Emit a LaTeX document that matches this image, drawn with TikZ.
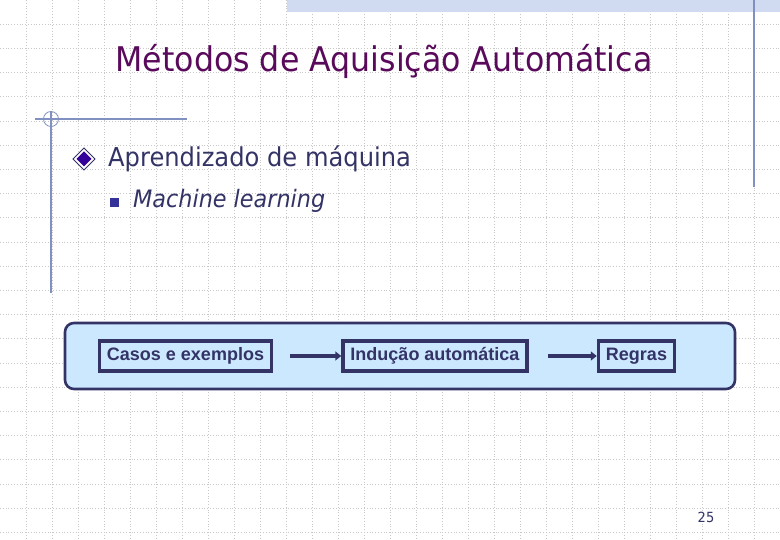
\documentclass[tikz,border=0pt]{standalone}
\usepackage{fontspec}
\setmainfont{Liberation Sans}
\newfontfamily\tahoma[FakeStretch=0.93]{DejaVu Sans}
\newfontfamily\tahomait[FakeStretch=0.93]{DejaVu Sans Oblique}
\definecolor{titlepurple}{HTML}{5A0A5A}
\definecolor{navy}{HTML}{333366}
\definecolor{gridgray}{HTML}{C8C8C8}
\definecolor{lineblue}{HTML}{8090C0}
\definecolor{boxfill}{HTML}{CCE8FF}
\definecolor{bannerblue}{HTML}{D0DAF0}
\definecolor{bulletpurple}{HTML}{330099}
\definecolor{squareblue}{HTML}{333399}
\usetikzlibrary{arrows.meta}
\tikzset{
  flowbox/.style={draw=navy, line width=3.5pt, fill=boxfill, inner xsep=5pt, inner ysep=0pt,
    minimum height=30pt, text height=13pt, text depth=3.5pt, text=navy,
    font=\bfseries\fontsize{18}{18}\selectfont},
  flowarrow/.style={draw=navy, line width=4.5pt, -{Triangle[length=6pt,width=9pt]}},
  guide/.style={draw=lineblue, line width=1.2pt},
}
\begin{document}
\begin{tikzpicture}[x=1pt,y=-1pt]
\useasboundingbox (0,0) rectangle (780,540);
\fill[white] (0,0) rectangle (780,540);
% grid
\foreach \i in {1,...,29} \draw[gridgray, dotted, line width=0.8pt] (26*\i,0) -- (26*\i,540);
\foreach \j in {1,...,22} \draw[gridgray, dotted, line width=0.8pt] (0,24.2*\j) -- (780,24.2*\j);
% top banner
\fill[bannerblue] (287,0) rectangle (780,12);
% guide lines
\draw[guide] (754,0) -- (754,187);
\draw[guide] (35,119) -- (187,119);
\draw[guide] (51,112) -- (51,293);
\draw[lineblue, line width=0.8pt] (51,119) circle (7.5);
% title
\node[anchor=base, text=titlepurple, font=\tahoma\fontsize{34}{34}\selectfont, inner sep=0] (title) at (384,72) {Métodos de Aquisição Automática};
% bullets
\draw[navy, line width=0.9pt, fill=white] (73,159) -- (84,148) -- (95,159) -- (84,170) -- cycle;
\fill[bulletpurple] (76.5,159) -- (84,151.5) -- (91.5,159) -- (84,166.5) -- cycle;
\node[anchor=base west, text=navy, font=\tahoma\fontsize{26}{26}\selectfont, inner sep=0] (sub) at (108,167) {Aprendizado de máquina};
\fill[squareblue] (110,198) rectangle (119,207);
\node[anchor=base west, text=navy, font=\tahomait\fontsize{24}{24}\selectfont, inner sep=0] (ml) at (133,208) {Machine learning};
% flow panel
\draw[draw=navy, line width=2.6pt, fill=boxfill, rounded corners=9pt] (65,323) rectangle (735,389);
\node[flowbox, minimum width=172pt] (casos) at (185.5,356) {Casos e exemplos};
\node[flowbox, minimum width=184pt] (inducao) at (435,356) {Indução automática};
\node[flowbox, minimum width=76pt] (regras) at (636.5,356) {Regras};
\draw[flowarrow] ([xshift=17pt]casos.east) -- (inducao.west);
\draw[flowarrow] ([xshift=19pt]inducao.east) -- (regras.west);
% page number
\node[text=navy, font=\tahoma\fontsize{14}{14}\selectfont, inner sep=0] (page) at (706,517) {25};
\end{tikzpicture}
\end{document}
